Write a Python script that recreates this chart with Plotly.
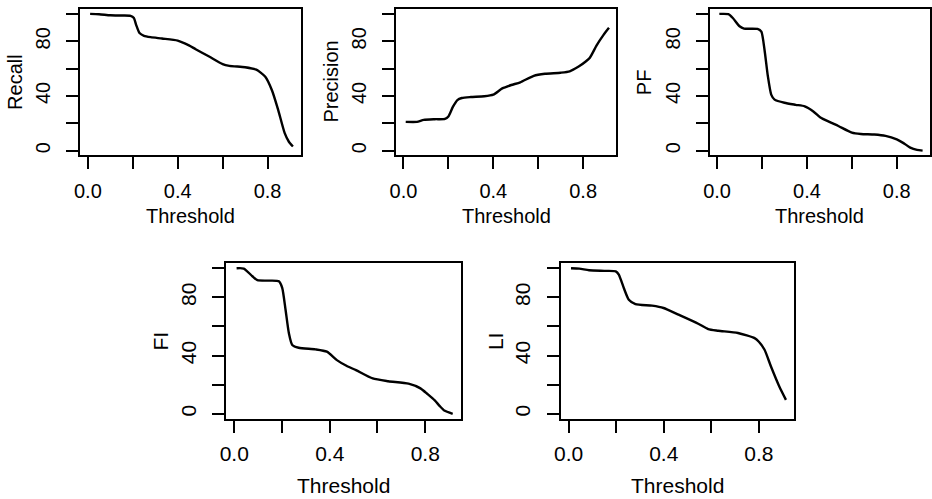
import plotly.graph_objects as go

W, H = 932, 499

# ---------------- data ----------------
recall_t = [0.01, 0.05, 0.10, 0.15, 0.19, 0.205, 0.215, 0.23, 0.25, 0.28, 0.33, 0.40,
            0.45, 0.48, 0.54, 0.60, 0.63, 0.70, 0.75, 0.79, 0.82, 0.847, 0.876, 0.895, 0.913]
recall_v = [100, 99.8, 99, 98.8, 98.6, 97, 92, 86, 84, 83, 82, 80.5,
            77, 74.2, 68.8, 63.3, 62, 61, 59.2, 54, 44, 30, 13, 6.5, 3]

precision_t = [0.01, 0.06, 0.09, 0.14, 0.185, 0.20, 0.22, 0.24, 0.26, 0.30, 0.36, 0.40,
               0.44, 0.48, 0.52, 0.58, 0.63, 0.70, 0.74, 0.78, 0.81, 0.83, 0.86, 0.89, 0.915]
precision_v = [21, 21, 22.5, 23, 23.2, 25, 32, 37, 38.5, 39.2, 39.8, 41,
               45.5, 48, 50, 54.7, 56.2, 57, 58, 61.5, 65, 68, 77, 84.5, 89.8]

pf_t = [0.01, 0.05, 0.07, 0.10, 0.12, 0.18, 0.197, 0.211, 0.226, 0.241, 0.256, 0.30, 0.35,
        0.39, 0.43, 0.46, 0.50, 0.54, 0.60, 0.64, 0.70, 0.75, 0.80, 0.83, 0.86, 0.89, 0.915]
pf_v = [100, 99.8, 97, 91, 89.3, 89, 87, 74, 54.5, 41, 37.3, 35, 33.5,
        32.4, 28.5, 24.2, 21, 18, 13.2, 12.2, 11.8, 10.8, 8.2, 5.5, 2.2, 0.5, 0]

fi_t = [0.01, 0.04, 0.076, 0.097, 0.15, 0.187, 0.201, 0.215, 0.229, 0.243, 0.27, 0.34, 0.388,
        0.43, 0.47, 0.51, 0.58, 0.645, 0.73, 0.78, 0.81, 0.84, 0.86, 0.88, 0.915]
fi_v = [100, 99.8, 94.5, 91.8, 91.5, 91, 86.5, 71.5, 55.3, 47.3, 45.4, 44.3, 42.7,
        36.9, 33, 30, 24.3, 22.4, 20.7, 17.5, 13.5, 9.2, 5.5, 2.3, 0]

li_t = [0.01, 0.045, 0.086, 0.15, 0.198, 0.211, 0.232, 0.253, 0.281, 0.351, 0.399, 0.462,
        0.545, 0.587, 0.629, 0.712, 0.782, 0.80, 0.824, 0.851, 0.886, 0.914]
li_v = [100, 99.7, 98.6, 98.2, 97.9, 95.6, 86.4, 78.4, 75.4, 74.3, 72.7, 68.1,
        61.9, 58.2, 57.1, 55.5, 52, 49.5, 44, 32.5, 18.8, 9.6]

x_tickvals = [0.0, 0.2, 0.4, 0.6, 0.8]
x_ticktext = ["0.0", "", "0.4", "", "0.8"]
y_tickvals = [0, 20, 40, 60, 80, 100]
y_ticktext = ["0", "", "40", "", "80", ""]
x_title = "Threshold"

# ---------------- layout ----------------
FONT = "Liberation Sans, Arial, Helvetica, sans-serif"

panels = [
    dict(label="Recall",    t=recall_t,    v=recall_v,    box=(74, 296, 9, 155),      fs=20),
    dict(label="Precision", t=precision_t, v=precision_v, box=(392, 614, 9, 155),     fs=20),
    dict(label="PF",        t=pf_t,        v=pf_v,        box=(708, 930, 9, 155),     fs=20),
    dict(label="FI",        t=fi_t,        v=fi_v,        box=(221, 457, 263, 418.5), fs=21),
    dict(label="LI",        t=li_t,        v=li_v,        box=(558, 793, 263, 418.5), fs=21),
]

fig = go.Figure()
layout = dict(
    width=W, height=H, margin=dict(l=0, r=0, t=0, b=0),
    paper_bgcolor="white", plot_bgcolor="white", showlegend=False,
    font=dict(family=FONT, color="black"),
    annotations=[],
)

for i, p in enumerate(panels, start=1):
    xa = "x" if i == 1 else f"x{i}"
    ya = "y" if i == 1 else f"y{i}"
    fig.add_trace(go.Scatter(
        x=p["t"], y=p["v"], mode="lines", xaxis=xa, yaxis=ya,
        line=dict(color="black", width=2.4, shape="spline", smoothing=0.6),
        hoverinfo="skip",
    ))
    l, r, t, b = p["box"]
    fs = p["fs"]
    common = dict(showline=True, linecolor="black", linewidth=2, mirror=True,
                  showgrid=False, zeroline=False, ticks="outside", ticklen=12,
                  tickwidth=2, tickcolor="black",
                  tickfont=dict(family=FONT, size=fs, color="black"))
    layout["xaxis" if i == 1 else f"xaxis{i}"] = dict(
        domain=[l / W, r / W], anchor=ya, range=[-0.033, 0.948],
        tickmode="array", tickvals=x_tickvals, ticktext=x_ticktext,
        ticklabelstandoff=5 if i <= 3 else 3, **common)
    layout["yaxis" if i == 1 else f"yaxis{i}"] = dict(
        domain=[1 - b / H, 1 - t / H], anchor=xa, range=[-3.2, 103.6],
        tickmode="array", tickvals=y_tickvals, ticktext=y_ticktext,
        tickangle=-90, ticklabelstandoff=8, **common)
    # axis titles
    layout["annotations"].append(dict(
        text=x_title, xref="paper", yref="paper", x=(l + r) / 2 / W,
        y=1 - (b + 61 if i <= 3 else b + 67) / H, xanchor="center", yanchor="middle",
        showarrow=False, font=dict(family=FONT, size=fs, color="black")))
    layout["annotations"].append(dict(
        text=p["label"], xref="paper", yref="paper", x=(l - 66) / W,
        y=1 - (t + b) / 2 / H, xanchor="center", yanchor="middle", textangle=-90,
        showarrow=False, font=dict(family=FONT, size=fs, color="black")))

fig.update_layout(**layout)
fig.write_html("out.html")
